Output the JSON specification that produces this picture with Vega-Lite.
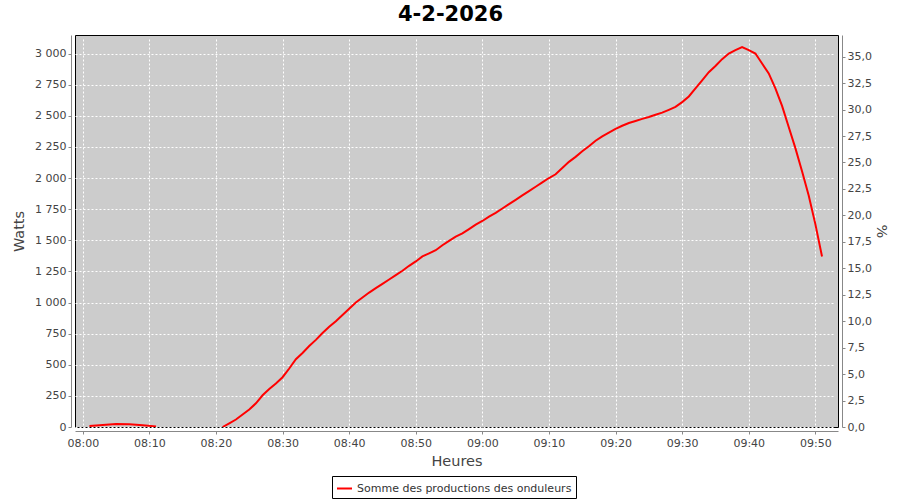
{
  "$schema": "https://vega.github.io/schema/vega-lite/v6.json",
  "width": 763,
  "height": 392,
  "autosize": {"type": "none"},
  "padding": {"left": 75, "top": 35, "right": 62, "bottom": 73},
  "background": "white",
  "title": {"text": "4-2-2026", "font": "DejaVu Sans", "fontSize": 21, "fontWeight": "bold", "color": "black", "anchor": "middle", "offset": 10, "dx": -6},
  "config": {
    "locale": {"number": {"decimal": ",", "thousands": " ", "grouping": [3], "currency": ["", " €"]}},
    "view": {"fill": "#cccccc", "stroke": "black", "strokeWidth": 1},
    "axis": {
      "labelFont": "DejaVu Sans", "labelFontSize": 11, "labelColor": "#444444",
      "titleFont": "DejaVu Sans", "titleFontSize": 14.5, "titleFontWeight": "normal", "titleColor": "#444444",
      "domainColor": "#888888", "tickColor": "#888888", "tickSize": 3,
      "gridColor": "white", "gridDash": [2, 2], "gridWidth": 1, "gridOpacity": 1,
      "offset": 4, "labelPadding": 2
    },
    "legend": {"labelFont": "DejaVu Sans", "labelFontSize": 11, "labelColor": "#333333", "labelLimit": 0}
  },
  "layer": [
    {
      "data": {"values": [
        {"t": "2026-02-04T08:01:00", "w": 8, "seg": 1},
        {"t": "2026-02-04T08:03:00", "w": 16, "seg": 1},
        {"t": "2026-02-04T08:05:00", "w": 24, "seg": 1},
        {"t": "2026-02-04T08:07:00", "w": 22, "seg": 1},
        {"t": "2026-02-04T08:09:00", "w": 15, "seg": 1},
        {"t": "2026-02-04T08:11:00", "w": 5, "seg": 1},
        {"t": "2026-02-04T08:21:00", "w": 0, "seg": 2},
        {"t": "2026-02-04T08:22:00", "w": 30, "seg": 2},
        {"t": "2026-02-04T08:23:00", "w": 60, "seg": 2},
        {"t": "2026-02-04T08:24:00", "w": 100, "seg": 2},
        {"t": "2026-02-04T08:25:00", "w": 140, "seg": 2},
        {"t": "2026-02-04T08:26:00", "w": 190, "seg": 2},
        {"t": "2026-02-04T08:27:00", "w": 255, "seg": 2},
        {"t": "2026-02-04T08:28:00", "w": 305, "seg": 2},
        {"t": "2026-02-04T08:29:00", "w": 350, "seg": 2},
        {"t": "2026-02-04T08:30:00", "w": 400, "seg": 2},
        {"t": "2026-02-04T08:31:00", "w": 470, "seg": 2},
        {"t": "2026-02-04T08:32:00", "w": 545, "seg": 2},
        {"t": "2026-02-04T08:33:00", "w": 595, "seg": 2},
        {"t": "2026-02-04T08:34:00", "w": 650, "seg": 2},
        {"t": "2026-02-04T08:35:00", "w": 700, "seg": 2},
        {"t": "2026-02-04T08:36:00", "w": 755, "seg": 2},
        {"t": "2026-02-04T08:37:00", "w": 805, "seg": 2},
        {"t": "2026-02-04T08:38:00", "w": 850, "seg": 2},
        {"t": "2026-02-04T08:39:00", "w": 900, "seg": 2},
        {"t": "2026-02-04T08:40:00", "w": 950, "seg": 2},
        {"t": "2026-02-04T08:41:00", "w": 1000, "seg": 2},
        {"t": "2026-02-04T08:42:00", "w": 1040, "seg": 2},
        {"t": "2026-02-04T08:43:00", "w": 1080, "seg": 2},
        {"t": "2026-02-04T08:44:00", "w": 1115, "seg": 2},
        {"t": "2026-02-04T08:45:00", "w": 1150, "seg": 2},
        {"t": "2026-02-04T08:46:00", "w": 1185, "seg": 2},
        {"t": "2026-02-04T08:47:00", "w": 1220, "seg": 2},
        {"t": "2026-02-04T08:48:00", "w": 1255, "seg": 2},
        {"t": "2026-02-04T08:49:00", "w": 1295, "seg": 2},
        {"t": "2026-02-04T08:50:00", "w": 1330, "seg": 2},
        {"t": "2026-02-04T08:51:00", "w": 1370, "seg": 2},
        {"t": "2026-02-04T08:52:00", "w": 1395, "seg": 2},
        {"t": "2026-02-04T08:53:00", "w": 1420, "seg": 2},
        {"t": "2026-02-04T08:54:00", "w": 1460, "seg": 2},
        {"t": "2026-02-04T08:55:00", "w": 1495, "seg": 2},
        {"t": "2026-02-04T08:56:00", "w": 1530, "seg": 2},
        {"t": "2026-02-04T08:57:00", "w": 1555, "seg": 2},
        {"t": "2026-02-04T08:58:00", "w": 1590, "seg": 2},
        {"t": "2026-02-04T08:59:00", "w": 1625, "seg": 2},
        {"t": "2026-02-04T09:00:00", "w": 1655, "seg": 2},
        {"t": "2026-02-04T09:01:00", "w": 1690, "seg": 2},
        {"t": "2026-02-04T09:02:00", "w": 1720, "seg": 2},
        {"t": "2026-02-04T09:03:00", "w": 1755, "seg": 2},
        {"t": "2026-02-04T09:04:00", "w": 1790, "seg": 2},
        {"t": "2026-02-04T09:05:00", "w": 1825, "seg": 2},
        {"t": "2026-02-04T09:06:00", "w": 1860, "seg": 2},
        {"t": "2026-02-04T09:07:00", "w": 1895, "seg": 2},
        {"t": "2026-02-04T09:08:00", "w": 1930, "seg": 2},
        {"t": "2026-02-04T09:09:00", "w": 1965, "seg": 2},
        {"t": "2026-02-04T09:10:00", "w": 2000, "seg": 2},
        {"t": "2026-02-04T09:11:00", "w": 2030, "seg": 2},
        {"t": "2026-02-04T09:12:00", "w": 2080, "seg": 2},
        {"t": "2026-02-04T09:13:00", "w": 2130, "seg": 2},
        {"t": "2026-02-04T09:14:00", "w": 2170, "seg": 2},
        {"t": "2026-02-04T09:15:00", "w": 2215, "seg": 2},
        {"t": "2026-02-04T09:16:00", "w": 2255, "seg": 2},
        {"t": "2026-02-04T09:17:00", "w": 2300, "seg": 2},
        {"t": "2026-02-04T09:18:00", "w": 2335, "seg": 2},
        {"t": "2026-02-04T09:19:00", "w": 2365, "seg": 2},
        {"t": "2026-02-04T09:20:00", "w": 2395, "seg": 2},
        {"t": "2026-02-04T09:21:00", "w": 2420, "seg": 2},
        {"t": "2026-02-04T09:22:00", "w": 2442, "seg": 2},
        {"t": "2026-02-04T09:23:00", "w": 2458, "seg": 2},
        {"t": "2026-02-04T09:24:00", "w": 2475, "seg": 2},
        {"t": "2026-02-04T09:25:00", "w": 2490, "seg": 2},
        {"t": "2026-02-04T09:26:00", "w": 2508, "seg": 2},
        {"t": "2026-02-04T09:27:00", "w": 2525, "seg": 2},
        {"t": "2026-02-04T09:28:00", "w": 2548, "seg": 2},
        {"t": "2026-02-04T09:29:00", "w": 2572, "seg": 2},
        {"t": "2026-02-04T09:30:00", "w": 2610, "seg": 2},
        {"t": "2026-02-04T09:31:00", "w": 2655, "seg": 2},
        {"t": "2026-02-04T09:32:00", "w": 2720, "seg": 2},
        {"t": "2026-02-04T09:33:00", "w": 2785, "seg": 2},
        {"t": "2026-02-04T09:34:00", "w": 2850, "seg": 2},
        {"t": "2026-02-04T09:35:00", "w": 2900, "seg": 2},
        {"t": "2026-02-04T09:36:00", "w": 2955, "seg": 2},
        {"t": "2026-02-04T09:37:00", "w": 3000, "seg": 2},
        {"t": "2026-02-04T09:38:00", "w": 3028, "seg": 2},
        {"t": "2026-02-04T09:39:00", "w": 3052, "seg": 2},
        {"t": "2026-02-04T09:40:00", "w": 3028, "seg": 2},
        {"t": "2026-02-04T09:41:00", "w": 3000, "seg": 2},
        {"t": "2026-02-04T09:42:00", "w": 2920, "seg": 2},
        {"t": "2026-02-04T09:43:00", "w": 2840, "seg": 2},
        {"t": "2026-02-04T09:44:00", "w": 2720, "seg": 2},
        {"t": "2026-02-04T09:45:00", "w": 2580, "seg": 2},
        {"t": "2026-02-04T09:46:00", "w": 2410, "seg": 2},
        {"t": "2026-02-04T09:47:00", "w": 2240, "seg": 2},
        {"t": "2026-02-04T09:48:00", "w": 2055, "seg": 2},
        {"t": "2026-02-04T09:49:00", "w": 1860, "seg": 2},
        {"t": "2026-02-04T09:50:00", "w": 1630, "seg": 2},
        {"t": "2026-02-04T09:51:00", "w": 1370, "seg": 2}
      ]},
      "mark": {"type": "line", "strokeWidth": 2, "clip": true},
      "encoding": {
        "x": {
          "field": "t", "type": "temporal",
          "scale": {"domain": [
            {"year": 2026, "month": 2, "date": 4, "hours": 7, "minutes": 58, "seconds": 50},
            {"year": 2026, "month": 2, "date": 4, "hours": 9, "minutes": 53, "seconds": 24}
          ]},
          "axis": {
            "title": "Heures", "format": "%H:%M", "labelPadding": 3, "titlePadding": 6, "grid": true,
            "values": [
              {"year": 2026, "month": 2, "date": 4, "hours": 8, "minutes": 0},
              {"year": 2026, "month": 2, "date": 4, "hours": 8, "minutes": 10},
              {"year": 2026, "month": 2, "date": 4, "hours": 8, "minutes": 20},
              {"year": 2026, "month": 2, "date": 4, "hours": 8, "minutes": 30},
              {"year": 2026, "month": 2, "date": 4, "hours": 8, "minutes": 40},
              {"year": 2026, "month": 2, "date": 4, "hours": 8, "minutes": 50},
              {"year": 2026, "month": 2, "date": 4, "hours": 9, "minutes": 0},
              {"year": 2026, "month": 2, "date": 4, "hours": 9, "minutes": 10},
              {"year": 2026, "month": 2, "date": 4, "hours": 9, "minutes": 20},
              {"year": 2026, "month": 2, "date": 4, "hours": 9, "minutes": 30},
              {"year": 2026, "month": 2, "date": 4, "hours": 9, "minutes": 40},
              {"year": 2026, "month": 2, "date": 4, "hours": 9, "minutes": 50}
            ]
          }
        },
        "y": {
          "field": "w", "type": "quantitative",
          "scale": {"domain": [0, 3149], "nice": false},
          "axis": {
            "title": "Watts", "orient": "left", "grid": true, "format": ",d",
            "values": [0, 250, 500, 750, 1000, 1250, 1500, 1750, 2000, 2250, 2500, 2750, 3000],
            "titlePadding": 8
          }
        },
        "detail": {"field": "seg", "type": "nominal"},
        "color": {
          "datum": "Somme des productions des onduleurs",
          "type": "nominal",
          "scale": {"range": ["#ff0000"]},
          "legend": {
            "title": null, "orient": "none", "legendX": 257, "legendY": 441,
            "symbolType": "stroke", "symbolStrokeWidth": 2, "symbolSize": 225,
            "strokeColor": "black", "padding": 4, "labelLimit": 0
          }
        }
      }
    },
    {
      "data": {"values": [{"p": 0}]},
      "mark": {"type": "point", "opacity": 0},
      "encoding": {
        "y": {
          "field": "p", "type": "quantitative",
          "scale": {"domain": [0, 37.05], "nice": false},
          "axis": {
            "title": "%", "orient": "right", "grid": false, "format": ".1f",
            "values": [0, 2.5, 5, 7.5, 10, 12.5, 15, 17.5, 20, 22.5, 25, 27.5, 30, 32.5, 35],
            "titlePadding": 2
          }
        }
      }
    }
  ],
  "resolve": {"scale": {"y": "independent"}}
}
